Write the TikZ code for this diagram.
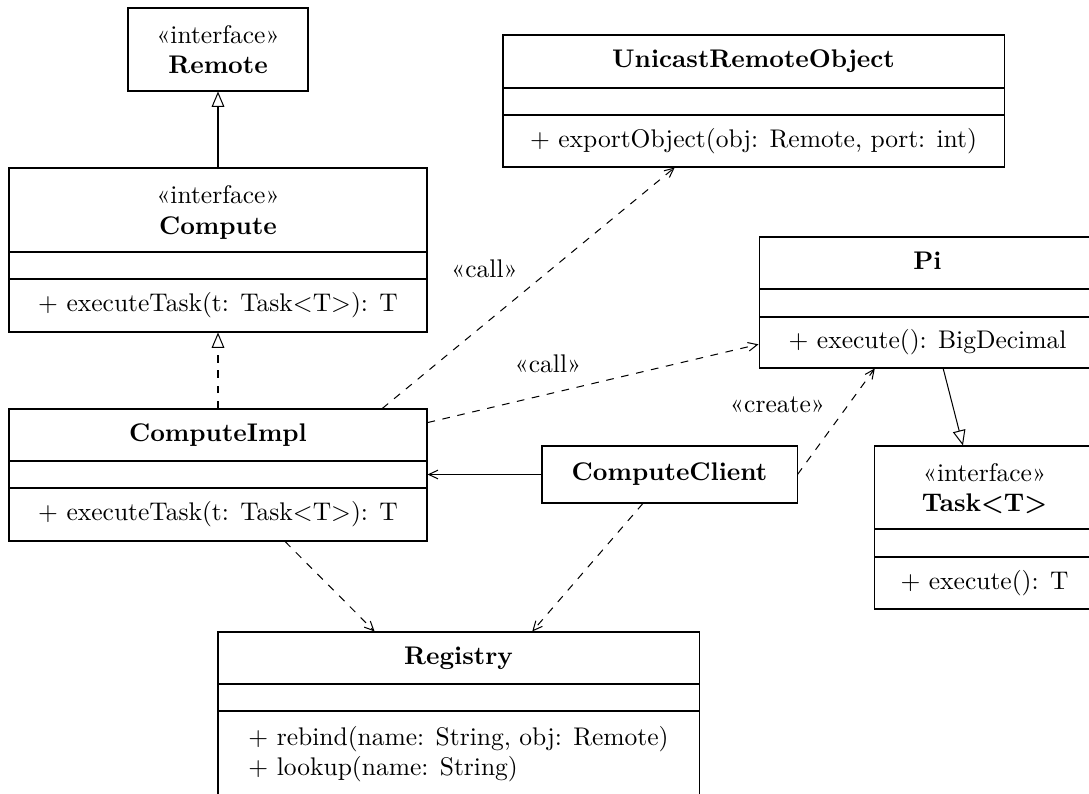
\documentclass[tikz,border=0pt]{standalone}
\usetikzlibrary{arrows.meta,calc,fit}
\tikzset{
  classbox/.style={draw, line width=0.4pt, inner sep=0pt},
  divline/.style={line width=0.4pt},
  oneline/.style={inner sep=0pt, text height=7pt, text depth=2pt},
  twoline/.style={inner sep=0pt, align=center, text depth=0pt},
  opsblock/.style={inner sep=0pt, align=left},
  inherit/.style={line width=0.4pt, -{Triangle[open, angle=45:6.5pt]}},
  realize/.style={inherit, dashed},
  dep/.style={line width=0.4pt, dashed, -{Straight Barb[angle=50:4pt]}},
  assoc/.style={line width=0.4pt, -{Straight Barb[angle=50:4pt]}},
  lbl/.style={inner sep=0pt, text height=7pt, text depth=2pt}
}
% box with two dividers: name, x1, y1, x2, y2, d1, d2
\newcommand\mkclass[7]{%
  \node[classbox, fit={(#2,#3) (#4,#5)}] (#1) {};
  \draw[divline] (#2,#6) -- (#4,#6) (#2,#7) -- (#4,#7);
}
\begin{document}
\begin{tikzpicture}[x=0.392pt, y=-0.392pt]
\useasboundingbox (0,0) rectangle (1089,794);

% Remote
\node[classbox, fit={(128,8) (308,91)}] (remote) {};
\node[twoline] (remote-head) at (218,49.5) {«interface»\\\textbf{Remote}};

% Compute
\mkclass{comp}{9}{168}{427}{332}{252}{279}
\node[twoline] (comp-head) at (218,210) {«interface»\\\textbf{Compute}};
\node[oneline] (comp-ops) at (218,305.5) {+ executeTask(t: Task<T>): T};

% UnicastRemoteObject
\mkclass{uro}{503}{35}{1004}{167}{88}{115}
\node[oneline] (uro-head) at (753.5,61.5) {\textbf{UnicastRemoteObject}};
\node[oneline] (uro-ops) at (753.5,141) {+ exportObject(obj: Remote, port: int)};

% Pi
\mkclass{pi}{759}{237}{1100}{368}{289}{317}
\node[oneline] (pi-head) at (927.5,263) {\textbf{Pi}};
\node[oneline] (pi-ops) at (927.5,342.5) {+ execute(): BigDecimal};

% ComputeImpl
\mkclass{impl}{9}{409}{427}{541}{461}{488}
\node[oneline] (impl-head) at (218,435) {\textbf{ComputeImpl}};
\node[oneline] (impl-ops) at (218,514.5) {+ executeTask(t: Task<T>): T};

% ComputeClient
\node[classbox, fit={(542,446) (797,503)}] (client) {};
\node[oneline] (client-head) at (669.5,474.5) {\textbf{ComputeClient}};

% Task<T>
\mkclass{task}{874}{446}{1100}{609}{529}{557}
\node[twoline] (task-head) at (984.5,487.5) {«interface»\\\textbf{Task<T>}};
\node[oneline] (task-ops) at (984.5,583) {+ execute(): T};

% Registry
\mkclass{reg}{218}{632}{699}{800}{684}{711}
\node[oneline] (reg-head) at (458.5,658) {\textbf{Registry}};
\node[opsblock] (reg-ops) at (458.5,754) {+ rebind(name: String, obj: Remote)\\+ lookup(name: String)};

% connectors
\draw[inherit] (comp.north) -- (remote.south);
\draw[realize] (impl.north) -- (comp.south);

\coordinate (c3s) at ($(impl.north west)!0.892!(impl.north east)$);
\coordinate (c3e) at ($(uro.south west)!0.343!(uro.south east)$);
\draw[dep] (c3s) -- (c3e);

\coordinate (c4s) at ($(impl.north east)!0.106!(impl.south east)$);
\coordinate (c4e) at ($(pi.north west)!0.817!(pi.south west)$);
\draw[dep] (c4s) -- (c4e);

\coordinate (c5e) at ($(pi.south west)!0.340!(pi.south east)$);
\draw[dep] (client.east) -- (c5e);

\coordinate (c6s) at ($(pi.south west)!0.540!(pi.south east)$);
\coordinate (c6e) at ($(task.north west)!0.394!(task.north east)$);
\draw[inherit] (c6s) -- (c6e);

\coordinate (c7s) at ($(impl.south west)!0.66!(impl.south east)$);
\coordinate (c7e) at ($(reg.north west)!0.326!(reg.north east)$);
\draw[dep] (c7s) -- (c7e);

\coordinate (c8s) at ($(client.south west)!0.396!(client.south east)$);
\coordinate (c8e) at ($(reg.north west)!0.653!(reg.north east)$);
\draw[dep] (c8s) -- (c8e);

\draw[assoc] (client.west) -- (client.west -| impl.east);

% labels
\node[lbl] (call1) at (484.5,271.5) {«call»};
\node[lbl] (call2) at (548,366.5) {«call»};
\node[lbl] (create) at (777.5,406.5) {«create»};
\end{tikzpicture}
\end{document}
